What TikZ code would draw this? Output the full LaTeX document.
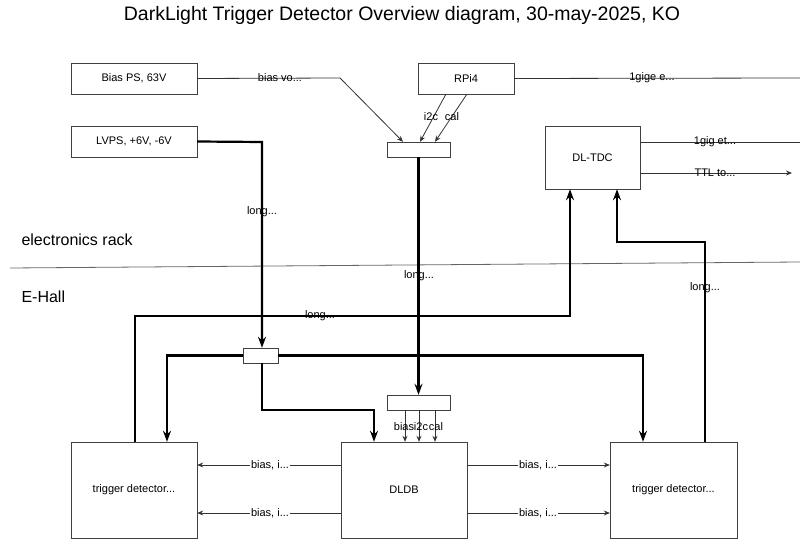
\documentclass[tikz,border=0pt]{standalone}
\usepackage{fontspec}
\setmainfont{Liberation Sans}
\usetikzlibrary{arrows.meta}
\begin{document}
\begin{tikzpicture}[x=1pt,y=-1pt,
  box/.style={draw=black!75,fill=white,inner sep=0,font=\fontsize{11}{13}\selectfont},
  thin/.style={draw=black!80,line width=0.8pt},
  thinarr/.style={thin,-{Stealth[length=6pt,width=5pt]}},
  thick/.style={draw=black,line width=2.2pt},
  thickarr/.style={thick,-{Stealth[length=11pt,width=8pt]}},
  lbl/.style={fill=white,inner sep=1pt,font=\fontsize{11}{13}\selectfont}]
\useasboundingbox (0,0) rectangle (800,545);
\node[font=\fontsize{19.5}{22}\selectfont] (title) at (402,15) {DarkLight Trigger Detector Overview diagram, 30-may-2025, KO};
\node[box,minimum width=126,minimum height=31] (bias) at (134,78.5) {Bias PS, 63V};
\node[box,minimum width=126,minimum height=31] (lvps) at (134,141.5) {LVPS, +6V, -6V};
\node[box,minimum width=96,minimum height=31] (rpi) at (466,78.5) {RPi4};
\node[box,minimum width=63,minimum height=15] (sb1) at (418.5,149.5) {};
\node[box,minimum width=95,minimum height=63] (tdc) at (592.5,157.5) {DL-TDC};
\node[box,minimum width=35,minimum height=15] (sb2) at (260.5,355.5) {};
\node[box,minimum width=63,minimum height=15] (sb3) at (418.5,402.5) {};
\node[box,minimum width=126,minimum height=96] (tl) at (134,490) {trigger detector...};
\node[box,minimum width=126,minimum height=96] (db) at (404,490) {DLDB};
\node[box,minimum width=127,minimum height=96] (tr) at (673.5,490) {trigger detector...};
\coordinate (e1) at (800,78);
\coordinate (e2) at (800,142);
\coordinate (e3) at (792,173);
\draw[draw=black!60,line width=0.8pt] (10,268) -- (800,262);
\node[anchor=west,font=\fontsize{16}{18}\selectfont] (er) at (18,240) {electronics rack};
\node[anchor=west,font=\fontsize{16}{18}\selectfont] (eh) at (18,297) {E-Hall};
% top thin
\draw[thinarr] (bias.east) -- (340,78) -- (sb1.north west -| 403,0);
\node[lbl,fill=none] at (280,78) {bias vo...};
\draw[thin] (rpi.east) -- (e1);
\node[lbl,fill=none] at (652,78) {1gige e...};
\draw[thinarr] (446,94) -- (sb1.north -| 420,0);
\draw[thinarr] (467,94) -- (sb1.north -| 435,0);
\node[lbl,fill=none,inner sep=0.5pt] at (431,117) {i2c};
\node[lbl,fill=none,inner sep=0.5pt] at (452,117) {cal};
\draw[thin] (tdc.east |- e2) -- (e2);
\node[lbl,fill=none] at (715,142) {1gig et...};
\draw[thinarr] (tdc.east |- e3) -- (e3);
\node[lbl,fill=none] at (715,173) {TTL to...};
% thick
\draw[thickarr] (lvps.east) -- (262,142) -- (sb2.north -| 262,0);
\node[lbl,fill=none] at (262,212) {long...};
\draw[thickarr] (sb1.south) -- (sb3.north);
\node[lbl,fill=none] at (419,276) {long...};
\draw[thickarr] (tl.north -| 135,0) -- (135,316) -- (570,316) -- (tdc.south -| 570,0);
\node[lbl,fill=none] at (320,316) {long...};
\draw[thickarr] (tr.north -| 705,0) -- (705,242) -- (617,242) -- (tdc.south -| 617,0);
\node[lbl,fill=none] at (705,288) {long...};
\draw[thickarr] (sb2.west) -- (167,355.5) -- (tl.north -| 167,0);
\draw[thickarr] (sb2.east) -- (643,355.5) -- (tr.north -| 643,0);
\draw[thickarr] (sb2.south -| 262,0) -- (262,410) -- (374,410) -- (db.north -| 374,0);
% bus
\foreach \x in {405,419,435} \draw[thinarr] (sb3.south -| \x,0) -- (db.north -| \x,0);
\node[lbl,fill=none,inner sep=0] at (404,427) {bias};
\node[lbl,fill=none,inner sep=0] at (421,427) {i2c};
\node[lbl,fill=none,inner sep=0] at (436,427) {cal};
% horizontal
\foreach \y in {465,513} {
  \draw[thinarr] (db.west |- 0,\y) -- (tl.east |- 0,\y);
  \node[lbl] at (270,\y) {bias, i...};
  \draw[thinarr] (db.east |- 0,\y) -- (tr.west |- 0,\y);
  \node[lbl] at (538,\y) {bias, i...};
}
\end{tikzpicture}
\end{document}
